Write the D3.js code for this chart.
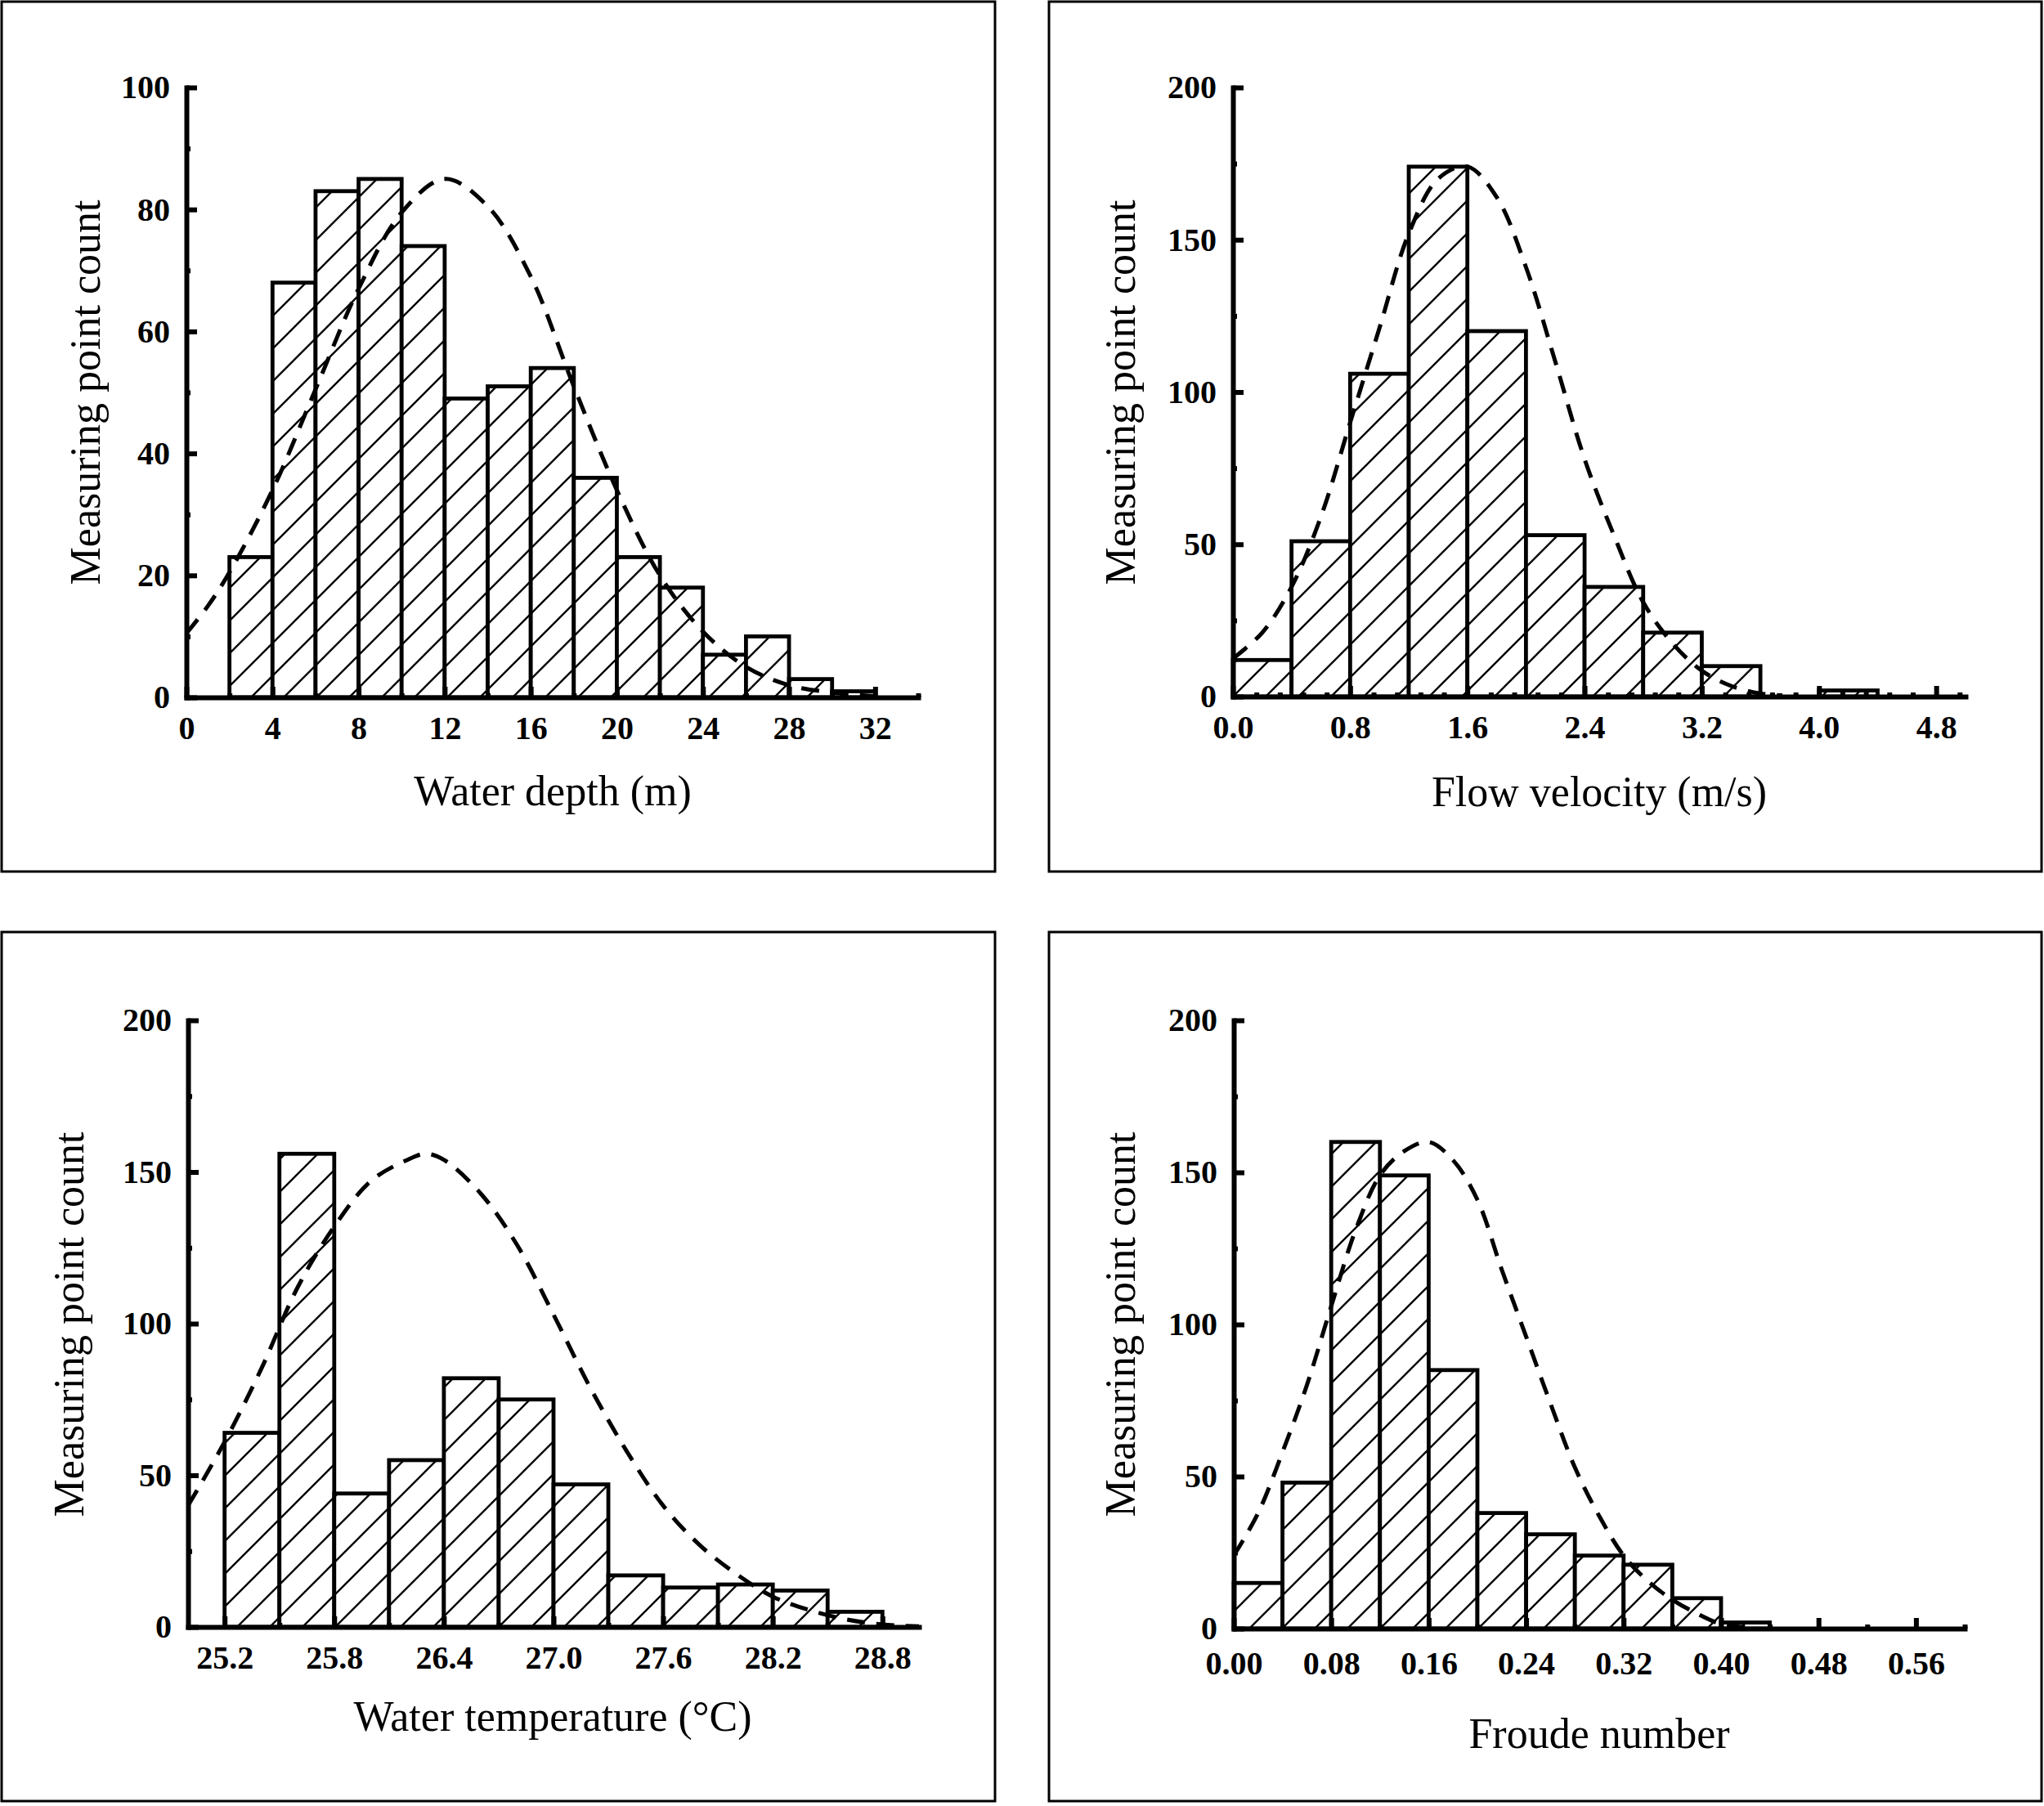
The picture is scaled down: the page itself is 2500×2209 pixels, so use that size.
<!DOCTYPE html>
<html>
<head>
<meta charset="utf-8">
<script src="https://cdn.jsdelivr.net/npm/d3@7"></script>
<style>
  body { margin: 0; background: #fff; }
  svg text { font-family: "Liberation Serif", "Times New Roman", serif; fill: #000; }
</style>
</head>
<body>
<svg id="fig" width="2500" height="2209"></svg>
<script>
// ---- data ----

// water depth (m)
const depthEdges = [2, 4, 6, 8, 10, 12, 14, 16, 18, 20, 22, 24, 26, 28, 30, 32];
const depthCounts = [23, 68, 83, 85, 74, 49, 51, 54, 36, 23, 18, 7, 10, 3, 1];
const depthFitX = [0, 1, 2, 4, 6, 8, 10, 12, 14, 16, 18, 20, 22, 24, 26, 28, 30, 32];
const depthFitY = [10.5, 15, 20.5, 34, 50.5, 67, 79.5, 85, 80.5, 69, 51, 34, 20, 10.8, 5, 2, 0.8, 0.2];
const depthTicks = [0, 4, 8, 12, 16, 20, 24, 28, 32];
const depthMinor = [2, 6, 10, 14, 18, 22, 26, 30, 34];

// flow velocity (m/s)
const velEdges = [0, 0.4, 0.8, 1.2, 1.6, 2.0, 2.4, 2.8, 3.2, 3.6, 4.0, 4.4];
const velCounts = [12, 51, 106, 174, 120, 53, 36, 21, 10, 0, 2];
const velFitX = [0, 0.2, 0.4, 0.6, 0.8, 1.0, 1.2, 1.4, 1.6, 1.8, 2.0, 2.2, 2.4, 2.6, 2.8, 3.0, 3.2, 3.4, 3.6, 3.75];
const velFitY = [12.5, 21, 36, 59, 90, 121, 152, 170, 174, 164, 141, 110, 78, 53, 31, 17.5, 8.5, 3.5, 1, 0.4];
const velTicks = [0, 0.8, 1.6, 2.4, 3.2, 4.0, 4.8];
const velMinor = [0.16, 0.32, 0.48, 0.64, 0.96, 1.12, 1.28, 1.44, 1.76, 1.92, 2.08, 2.24,
                  2.56, 2.72, 2.88, 3.04, 3.36, 3.52, 3.68, 3.84, 4.16, 4.32, 4.48, 4.64, 4.96];

// water temperature (°C)
const tempEdges = [25.2, 25.5, 25.8, 26.1, 26.4, 26.7, 27.0, 27.3, 27.6, 27.9, 28.2, 28.5, 28.8];
const tempCounts = [64, 156, 44, 55, 82, 75, 47, 17, 13, 14, 12, 5];
const tempFitX = [25.0, 25.2, 25.4, 25.6, 25.8, 26.0, 26.2, 26.3, 26.4, 26.6, 26.8, 27.0, 27.2,
                  27.4, 27.6, 27.8, 28.0, 28.2, 28.4, 28.6, 28.8, 29.0];
const tempFitY = [40, 61, 85, 112, 132, 147, 154, 156, 154, 143, 126, 103, 79,
                  58, 40, 27, 17.5, 10, 5.6, 2.5, 0.8, 0.2];
const tempTicks = [25.2, 25.8, 26.4, 27.0, 27.6, 28.2, 28.8];
const tempMinor = [25.5, 26.1, 26.7, 27.3, 27.9, 28.5];

// Froude number
const frEdges = [0, 0.04, 0.08, 0.12, 0.16, 0.20, 0.24, 0.28, 0.32, 0.36, 0.40, 0.44];
const frCounts = [15, 48, 160, 149, 85, 38, 31, 24, 21, 10, 2];
const frFitX = [0, 0.02, 0.04, 0.06, 0.08, 0.10, 0.12, 0.14, 0.16, 0.18, 0.20, 0.22, 0.24,
                0.26, 0.28, 0.30, 0.32, 0.34, 0.36, 0.38, 0.40, 0.42];
const frFitY = [24, 38, 58, 80, 106, 131, 149, 157, 160, 154, 141, 118, 96,
                74, 53, 37, 24, 15.6, 9.5, 5, 1.5, 0.5];
const frTicks = [0, 0.08, 0.16, 0.24, 0.32, 0.40, 0.48, 0.56];
const frMinor = [0.04, 0.12, 0.20, 0.28, 0.36, 0.44, 0.52, 0.60];

const countTicks100 = [0, 20, 40, 60, 80, 100];
const countMinor100 = [10, 30, 50, 70, 90];
const countTicks200 = [0, 50, 100, 150, 200];
const countMinor200 = [25, 75, 125, 175];

const yTitle = "Measuring point count";

// ---- layout ----
const panels = [
  { box: [2, 2, 1215, 1064], xDomain: [0, 34], xRange: [228, 1123], yMax: 100, yRange: [853, 107],
    edges: depthEdges, counts: depthCounts, fitX: depthFitX, fitY: depthFitY,
    xTicks: depthTicks, xMinor: depthMinor, yTicks: countTicks100, yMinor: countMinor100,
    fmt: d3.format("d"), xPad: 23, xTitle: "Water depth (m)", xTitlePos: [676, 985], yTitlePos: [122, 480] },
  { box: [1283, 2, 1214, 1064], xDomain: [0, 5.0], xRange: [1508, 2404], yMax: 200, yRange: [852, 107],
    edges: velEdges, counts: velCounts, fitX: velFitX, fitY: velFitY,
    xTicks: velTicks, xMinor: velMinor, yTicks: countTicks200, yMinor: countMinor200,
    fmt: d3.format(".1f"), xPad: 23, xTitle: "Flow velocity (m/s)", xTitlePos: [1956, 986], yTitlePos: [1388, 480] },
  { box: [2, 1140, 1215, 1063], xDomain: [25.0, 29.0], xRange: [230, 1124], yMax: 200, yRange: [1990, 1248],
    edges: tempEdges, counts: tempCounts, fitX: tempFitX, fitY: tempFitY,
    xTicks: tempTicks, xMinor: tempMinor, yTicks: countTicks200, yMinor: countMinor200,
    fmt: d3.format(".1f"), xPad: 23, xTitle: "Water temperature (°C)", xTitlePos: [676, 2117], yTitlePos: [102, 1620] },
  { box: [1283, 1140, 1214, 1063], xDomain: [0, 0.60], xRange: [1509, 2403], yMax: 200, yRange: [1992, 1248],
    edges: frEdges, counts: frCounts, fitX: frFitX, fitY: frFitY,
    xTicks: frTicks, xMinor: frMinor, yTicks: countTicks200, yMinor: countMinor200,
    fmt: d3.format(".2f"), xPad: 28, xTitle: "Froude number", xTitlePos: [1956, 2138], yTitlePos: [1388, 1620] }
];

const svg = d3.select("#fig");
svg.append("rect").attr("width", 2500).attr("height", 2209).attr("fill", "#fff");

// diagonal hatch
const pat = svg.append("defs").append("pattern")
  .attr("id", "hatch")
  .attr("patternUnits", "userSpaceOnUse")
  .attr("width", 40).attr("height", 40);
pat.append("rect").attr("width", 40).attr("height", 40).attr("fill", "#fff");
pat.append("path")
  .attr("d", "M0,40 L40,0 M-10,10 L10,-10 M30,50 L50,30")
  .attr("stroke", "#000").attr("stroke-width", 2.4);

panels.forEach(drawPanel);

function drawPanel (p) {
  const g = svg.append("g");

  g.append("rect")
    .attr("x", p.box[0]).attr("y", p.box[1])
    .attr("width", p.box[2]).attr("height", p.box[3])
    .attr("fill", "none").attr("stroke", "#000").attr("stroke-width", 3);

  const x = d3.scaleLinear().domain(p.xDomain).range(p.xRange);
  const y = d3.scaleLinear().domain([0, p.yMax]).range(p.yRange);

  const bins = p.counts
    .map((c, i) => ({ x0: p.edges[i], x1: p.edges[i + 1], c: c }))
    .filter(d => d.c > 0);

  g.selectAll("rect.bar")
    .data(bins)
    .enter().append("rect")
      .attr("class", "bar")
      .attr("x", d => x(d.x0))
      .attr("y", d => y(d.c))
      .attr("width", d => x(d.x1) - x(d.x0))
      .attr("height", d => y(0) - y(d.c))
      .attr("fill", "url(#hatch)")
      .attr("stroke", "#000")
      .attr("stroke-width", 4.8);

  // fitted normal curve
  const line = d3.line()
    .x(d => x(d[0]))
    .y(d => y(d[1]))
    .curve(d3.curveCatmullRom);
  g.append("path")
    .datum(p.fitX.map((v, i) => [v, p.fitY[i]]))
    .attr("d", line)
    .attr("fill", "none")
    .attr("stroke", "#000")
    .attr("stroke-width", 5)
    .attr("stroke-dasharray", "22,14");

  // axes
  const xAxis = g.append("g")
    .attr("transform", `translate(0,${y(0)})`)
    .call(d3.axisBottom(x).tickValues(p.xTicks).tickFormat(p.fmt)
      .tickSize(-13).tickSizeOuter(0).tickPadding(p.xPad));
  const xMinor = g.append("g")
    .attr("transform", `translate(0,${y(0)})`)
    .call(d3.axisBottom(x).tickValues(p.xMinor).tickFormat("")
      .tickSize(-5).tickSizeOuter(0));
  xMinor.select(".domain").remove();

  const yAxis = g.append("g")
    .attr("transform", `translate(${x(p.xDomain[0])},0)`)
    .call(d3.axisLeft(y).tickValues(p.yTicks).tickFormat(d3.format("d"))
      .tickSize(-13).tickSizeOuter(0).tickPadding(20));
  const yMinor = g.append("g")
    .attr("transform", `translate(${x(p.xDomain[0])},0)`)
    .call(d3.axisLeft(y).tickValues(p.yMinor).tickFormat("")
      .tickSize(-5).tickSizeOuter(0));
  yMinor.select(".domain").remove();

  for (const ax of [xAxis, yAxis, xMinor, yMinor]) {
    ax.attr("font-family", null).attr("font-size", null);
    ax.selectAll("line").attr("stroke", "#000").attr("stroke-width", 6);
    ax.selectAll(".domain").attr("stroke", "#000").attr("stroke-width", 6)
      .attr("stroke-linecap", "square");
    ax.selectAll("text")
      .style("font-size", "40px")
      .style("font-weight", "bold")
      .attr("fill", "#000");
  }

  // titles
  g.append("text")
    .attr("x", p.xTitlePos[0]).attr("y", p.xTitlePos[1])
    .attr("text-anchor", "middle")
    .style("font-size", "52px")
    .text(p.xTitle);

  g.append("text")
    .attr("transform", `translate(${p.yTitlePos[0]},${p.yTitlePos[1]}) rotate(-90)`)
    .attr("text-anchor", "middle")
    .style("font-size", "52px")
    .text(yTitle);
}
</script>
</body>
</html>
